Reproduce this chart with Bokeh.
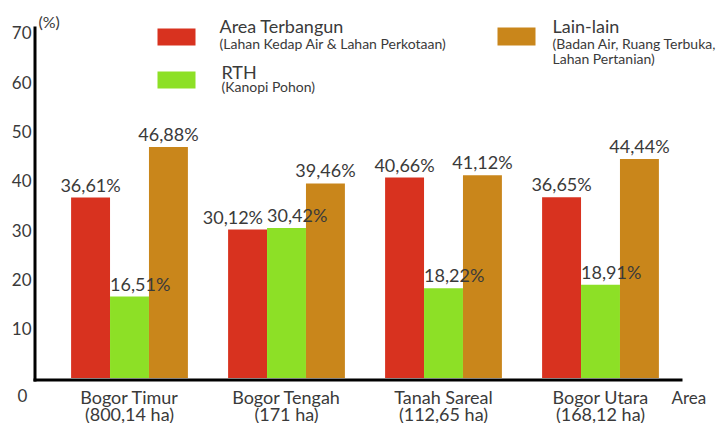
from bokeh.plotting import figure
from bokeh.models import Range1d
from bokeh.core.properties import value
from bokeh.embed import file_html
from bokeh.resources import INLINE

# ---- data ----
areas = ["Bogor Timur", "Bogor Tengah", "Tanah Sareal", "Bogor Utara"]
area_sizes = ["(800,14 ha)", "(171 ha)", "(112,65 ha)", "(168,12 ha)"]
area_terbangun = [36.61, 30.12, 40.66, 36.65]
rth = [16.51, 30.42, 18.22, 18.91]
lain_lain = [46.88, 39.46, 41.12, 44.44]
y_ticks = [10, 20, 30, 40, 50, 60, 70]

RED = "#D8321F"
GREEN = "#8DE026"
ORANGE = "#C9861B"
TXT = "#3a3a3a"
FONT = value("Lato")

# pixel helpers (layout only)
def X(px):
    return (px - 129) / 157.0

def Y(py):
    return (377.5 - py) / 4.93

W, H = 725, 423
p = figure(width=W, height=H, output_backend="svg", toolbar_location=None,
           x_range=Range1d(X(0), X(W)), y_range=Range1d(Y(H), Y(0)),
           min_border=0, min_border_left=0, min_border_right=0,
           min_border_top=0, min_border_bottom=0)
p.xaxis.visible = False
p.yaxis.visible = False
p.xgrid.visible = False
p.ygrid.visible = False
p.outline_line_color = None
p.background_fill_color = "white"
p.border_fill_color = "white"

bw = 0.248
idx = list(range(len(areas)))
fmt = lambda v: f"{v:.2f}".replace(".", ",") + "%"
LBL = "18px"

series = [(area_terbangun, -bw, RED), (rth, 0.0, GREEN), (lain_lain, bw, ORANGE)]
for vals, off, col in series:
    p.vbar(x=[i + off for i in idx], top=vals, bottom=0, width=bw,
           fill_color=col, line_color=None)

# red labels: centred, unless the neighbouring green label is at the same height
red_c = [i for i in idx if abs(area_terbangun[i] - rth[i]) >= 3]
red_r = [i for i in idx if abs(area_terbangun[i] - rth[i]) < 3]
p.text(x=[i - bw for i in red_c], y=[area_terbangun[i] for i in red_c],
       text=[fmt(area_terbangun[i]) for i in red_c], text_align="center",
       text_baseline="bottom", y_offset=-2, text_font=FONT,
       text_font_size=LBL, text_color=TXT)
p.text(x=[i - bw / 2 for i in red_r], y=[area_terbangun[i] for i in red_r],
       text=[fmt(area_terbangun[i]) for i in red_r], text_align="right",
       text_baseline="bottom", y_offset=-2, x_offset=-4, text_font=FONT,
       text_font_size=LBL, text_color=TXT)
p.text(x=[i - bw / 2 for i in idx], y=rth, text=[fmt(v) for v in rth],
       text_align="left", text_baseline="bottom", y_offset=-2, text_font=FONT,
       text_font_size=LBL, text_color=TXT)
p.text(x=[i + bw for i in idx], y=lain_lain, text=[fmt(v) for v in lain_lain],
       text_align="center", text_baseline="bottom", y_offset=-2, text_font=FONT,
       text_font_size=LBL, text_color=TXT)

# axes lines
p.segment(x0=[X(34.5)], y0=[Y(381)], x1=[X(34.5)], y1=[Y(26)],
          line_width=3, line_color="black")
p.segment(x0=[X(33)], y0=[Y(379.5)], x1=[X(682)], y1=[Y(379.5)],
          line_width=3, line_color="black")

# y tick labels
p.text(x=[X(31)] * len(y_ticks), y=y_ticks, text=[str(t) for t in y_ticks],
       text_align="right", text_baseline="middle", text_font=FONT,
       text_font_size="17px", text_color=TXT)
p.text(x=[X(22)], y=[Y(395)], text=["0"], text_align="center",
       text_baseline="middle", text_font=FONT, text_font_size="17px", text_color=TXT)
p.text(x=[X(38)], y=[Y(21)], text=["(%)"], text_align="left",
       text_baseline="middle", text_font=FONT, text_font_size="16px", text_color=TXT)

# category labels
p.text(x=idx, y=[Y(396)] * len(idx), text=areas, text_align="center",
       text_baseline="middle", text_font=FONT, text_font_size="18px", text_color=TXT)
p.text(x=idx, y=[Y(413)] * len(idx), text=area_sizes, text_align="center",
       text_baseline="middle", text_font=FONT, text_font_size="18px", text_color=TXT)
p.text(x=[X(671)], y=[Y(397)], text=["Area"], text_align="left",
       text_baseline="middle", text_font=FONT, text_font_size="17px", text_color=TXT)

# legend
p.quad(left=[X(157), X(157), X(497)], right=[X(195), X(195), X(535)],
       top=[Y(28), Y(71), Y(27)], bottom=[Y(45), Y(88), Y(45)],
       fill_color=[RED, GREEN, ORANGE], line_color=None)
p.text(x=[X(219), X(221), X(552)], y=[Y(25), Y(71), Y(25)],
       text=["Area Terbangun", "RTH", "Lain-lain"], text_align="left",
       text_baseline="middle", text_font=FONT, text_font_size="18px", text_color=TXT)
p.text(x=[X(219), X(221), X(552), X(552)], y=[Y(43), Y(86), Y(43), Y(58)],
       text=["(Lahan Kedap Air & Lahan Perkotaan)", "(Kanopi Pohon)",
             "(Badan Air, Ruang Terbuka,", "Lahan Pertanian)"],
       text_align="left", text_baseline="middle", text_font=FONT,
       text_font_size="14px", text_color=TXT)

open("out.html", "w").write(file_html(p, INLINE))
